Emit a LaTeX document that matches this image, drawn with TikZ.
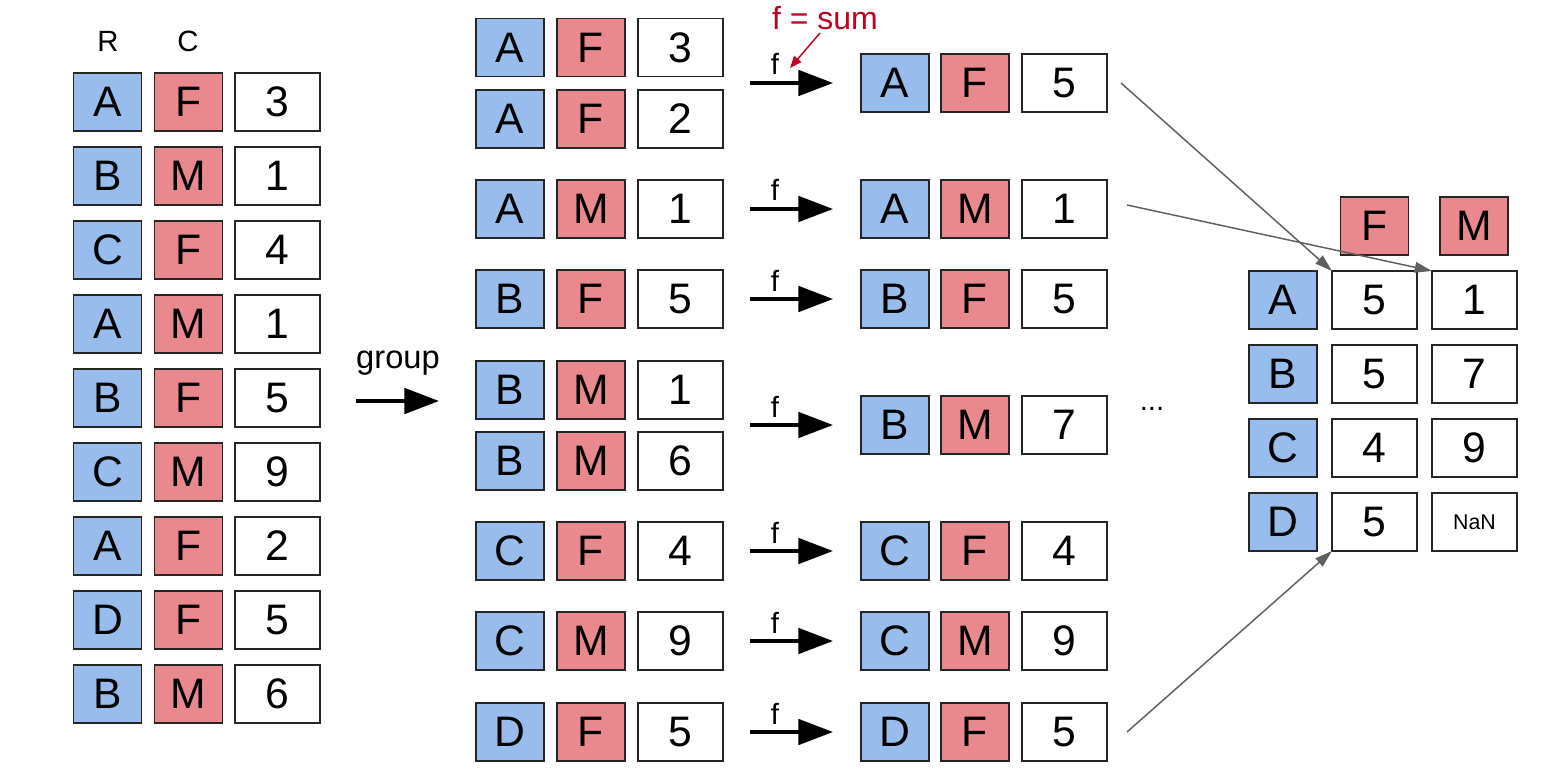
\documentclass[tikz,border=0pt]{standalone}
\usepackage{fontspec}
\setmainfont{Liberation Sans}
\usetikzlibrary{arrows.meta}
\definecolor{rowblue}{HTML}{98BDED}
\definecolor{colred}{HTML}{E9898E}
\definecolor{sumred}{HTML}{C0001F}
\definecolor{linkgray}{HTML}{5F5F5F}
\begin{document}
\begin{tikzpicture}[x=0.75pt,y=-0.75pt,
    cell/.style={draw=black!85,line width=1.1pt,inner sep=0pt,outer sep=0pt,
      minimum height=43.5pt,font=\fontsize{32}{36}\selectfont},
    rbox/.style={cell,fill=rowblue,minimum width=51pt},
    cbox/.style={cell,fill=colred,minimum width=51pt},
    vbox/.style={cell,fill=white,minimum width=63.75pt},
    lbl/.style={anchor=base,inner sep=0pt,font=\fontsize{22}{26}\selectfont},
    fat/.style={line width=3pt,-{Triangle[length=26pt,width=19pt]}},
    link/.style={linkgray,line width=1.1pt,-{Triangle[length=13pt,width=8pt]}}]
  \useasboundingbox (0,0) rectangle (1544,784);
  % Input table
  \node[lbl] (headR) at (108,52) {R};
  \node[lbl] (headC) at (188,52) {C};
  \foreach \r/\c/\v [count=\i, evaluate=\i as \y using 102+74*(\i-1)] in
      {A/F/3, B/M/1, C/F/4, A/M/1, B/F/5, C/M/9, A/F/2, D/F/5, B/M/6} {
    \node[rbox] (l\i r) at (107.5,\y) {\r};
    \node[cbox] (l\i c) at (188.5,\y) {\c};
    \node[vbox] (l\i v) at (277.5,\y) {\v};
  }
  % Group arrow
  \coordinate (g0) at (356,401);
  \coordinate (g1) at (439,401);
  \draw[fat] (g0) -- (g1);
  \node[lbl,font=\fontsize{24.5}{28}\selectfont] (grp) at (398,368) {group};
  % Grouped rows
  \foreach \y/\r/\c/\v [count=\i] in
      {47.5/A/F/3, 119/A/F/2, 209/A/M/1, 299/B/F/5, 390/B/M/1,
       461/B/M/6, 551/C/F/4, 641/C/M/9, 732/D/F/5} {
    \node[rbox] (m\i r) at (510,\y) {\r};
    \node[cbox] (m\i c) at (591,\y) {\c};
    \node[vbox] (m\i v) at (680.5,\y) {\v};
  }
  % Aggregated rows with f arrows
  \foreach \y/\r/\c/\v [count=\i] in
      {83/A/F/5, 209/A/M/1, 299/B/F/5, 425/B/M/7, 551/C/F/4, 641/C/M/9, 732/D/F/5} {
    \coordinate (f\i a) at (750,\y);
    \coordinate (f\i b) at (833,\y);
    \draw[fat] (f\i a) -- (f\i b);
    \node[lbl] (f\i) at (775,\y-8) {f};
    \node[rbox] (s\i r) at (895,\y) {\r};
    \node[cbox] (s\i c) at (975,\y) {\c};
    \node[vbox] (s\i v) at (1064.5,\y) {\v};
  }
  % f = sum note
  \node[lbl,sumred,font=\fontsize{24}{28}\selectfont] (fsum) at (825,30) {f = sum};
  \coordinate (fs0) at (820,33);
  \coordinate (fs1) at (790,68);
  \draw[sumred,line width=1.1pt,-{Triangle[length=9pt,width=7pt]}] (fs0) -- (fs1);
  \node[lbl] (dots) at (1152,410) {...};
  % Result table
  \node[cbox] (hF) at (1374.5,226) {F};
  \node[cbox] (hM) at (1474,226) {M};
  \foreach \r/\a/\b [count=\i, evaluate=\i as \y using 300+74*(\i-1)] in
      {A/5/1, B/5/7, C/4/9, D/5/{\fontsize{16}{18}\selectfont NaN}} {
    \node[rbox] (t\i r) at (1283,\y) {\r};
    \node[vbox] (t\i F) at (1374.5,\y) {\a};
    \node[vbox] (t\i M) at (1474.5,\y) {\b};
  }
  % Links into the result table
  \draw[link] ([xshift=10.5pt]s1v.east) -- (t1F.north west);
  \draw[link] ([xshift=15pt,yshift=3pt]s2v.east) -- (t1M.north west);
  \draw[link] ([xshift=15pt]s7v.east) -- (t4F.south west);
\end{tikzpicture}
\end{document}
